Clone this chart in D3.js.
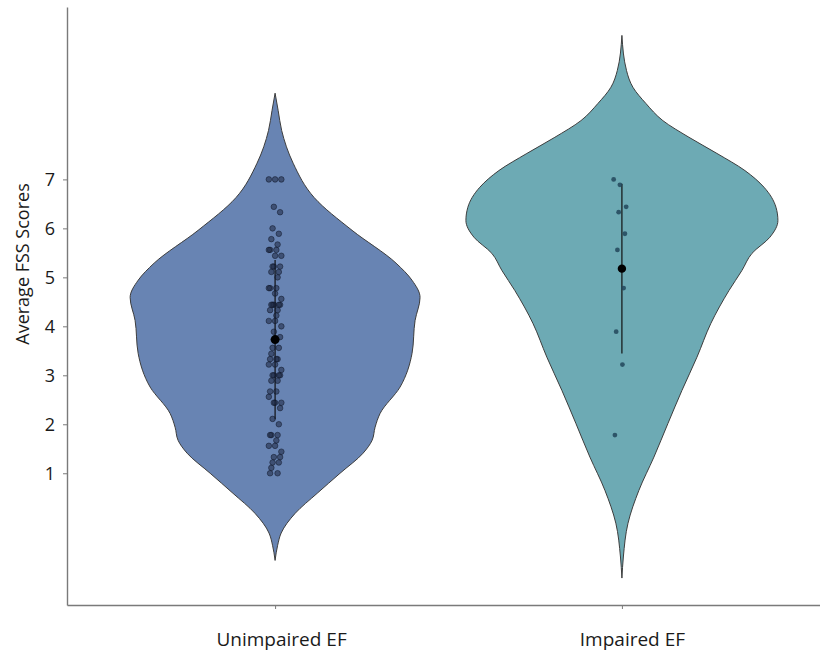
<!DOCTYPE html>
<html>
<head>
<meta charset="utf-8">
<script src="https://cdn.jsdelivr.net/npm/d3@7"></script>
<style>
  body { margin: 0; background: #fff; }
  svg { display: block; font-family: "Open Sans", sans-serif; }
</style>
</head>
<body>
<div id="violin"></div>
<script>
// groups on the x axis
const groups = ["Unimpaired EF", "Impaired EF"];
const yTicks = [1, 2, 3, 4, 5, 6, 7];

// individual average FSS scores
const unimpairedScores = [7, 7, 7, 6.44, 6.33, 6.0, 5.89, 5.78, 5.67, 5.56, 5.56, 5.56,
    5.44, 5.44, 5.22, 5.22, 5.22, 5.11, 5.11, 5.0, 4.78, 4.78, 4.78, 4.67, 4.56,
    4.44, 4.44, 4.44, 4.44, 4.44, 4.33, 4.33, 4.22, 4.11, 4.11, 4.0, 3.89, 3.78,
    3.56, 3.56, 3.44, 3.33, 3.33, 3.33, 3.22, 3.22, 3.11, 3.0, 3.0, 3.0, 3.0,
    2.89, 2.89, 2.67, 2.67, 2.56, 2.44, 2.44, 2.44, 2.33, 2.11, 2.0, 1.78, 1.78,
    1.78, 1.67, 1.56, 1.56, 1.44, 1.33, 1.33, 1.22, 1.22, 1.11, 1.0, 1.0];
const impairedScores = [7, 6.89, 6.44, 6.33, 5.89, 5.56, 4.78, 3.89, 3.22, 1.78];

// violin outlines: score level and relative density
const unimpairedLevels = [8.76, 8.41, 8.0, 7.33, 6.63, 5.96, 5.29, 4.94, 4.59, 4.12, 3.45,
    2.76, 2.22, 1.94, 1.67, 1.41, 1.0, 0.59, 0.18, -0.22, -0.47, -0.78];
const unimpairedDensity = [0, 0.019, 0.041, 0.113, 0.244, 0.481, 0.756, 0.856, 0.906, 0.875,
    0.856, 0.781, 0.656, 0.625, 0.606, 0.55, 0.406, 0.263, 0.125, 0.038, 0.016, 0];
const impairedLevels = [9.94, 9.22, 8.88, 8.55, 8.2, 7.86, 7.53, 7.18, 6.84, 6.43, 6.16,
    5.82, 5.49, 5.14, 4.73, 4.06, 3.37, 2.69, 2.02, 1.33, 0.65, -0.02, -0.71, -1.14];
const impairedDensity = [0, 0.029, 0.069, 0.15, 0.256, 0.419, 0.594, 0.769, 0.888, 0.963,
    0.975, 0.925, 0.813, 0.75, 0.669, 0.556, 0.469, 0.375, 0.288, 0.2, 0.106, 0.038, 0.009, 0];

const colors = ["#6884b3", "#6daab4"];

// set the dimensions and margins of the graph
const width = 820, height = 654;
const margin = {top: 7, right: 0, bottom: 49, left: 67};

const svg = d3.select("#violin")
    .append("svg")
    .attr("width", width)
    .attr("height", height);

const y = d3.scaleLinear()
    .domain([-1.69, 10.52])
    .range([height - margin.bottom, margin.top]);

const x = d3.scalePoint()
    .domain(groups)
    .range([margin.left, 830])
    .padding(0.6);

const w = d3.scaleLinear().domain([0, 1]).range([0, 160]);

const violins = [
    {key: groups[0], levels: unimpairedLevels, dens: unimpairedDensity, scores: unimpairedScores},
    {key: groups[1], levels: impairedLevels, dens: impairedDensity, scores: impairedScores}
];

// violin bodies
violins.forEach((v, k) => {
    const pts = v.levels.map((l, i) => [l, v.dens[i]]);
    const cx = x(v.key);
    svg.append("path")
        .datum(pts)
        .attr("fill", colors[k])
        .attr("stroke", "#3d3d3d")
        .attr("stroke-width", 1)
        .attr("d", d3.area()
            .curve(d3.curveMonotoneY)
            .y(d => y(d[0]))
            .x0(d => cx - w(d[1]))
            .x1(d => cx + w(d[1]))
        );
});

// mean +/- sd line, dots and mean marker
violins.forEach((v, k) => {
    const cx = x(v.key);
    const m = d3.mean(v.scores), sd = d3.deviation(v.scores);
    svg.append("line")
        .attr("x1", cx).attr("x2", cx)
        .attr("y1", y(m + sd)).attr("y2", y(m - sd))
        .attr("stroke", "#111")
        .attr("stroke-width", 1.2);

    svg.append("g")
        .selectAll("circle")
        .data(v.scores)
        .join("circle")
        .attr("cx", (d, i) => cx + ((i * 5) % 11 - 5) * 1.25 - (k ? 2 : 0))
        .attr("cy", d => y(d))
        .attr("r", k ? 2.4 : 2.8)
        .attr("fill", k ? "#22475a" : "#1b2740")
        .attr("fill-opacity", k ? 0.85 : 0.55)
        .attr("stroke", k ? "none" : "#0c1424")
        .attr("stroke-opacity", 0.6)
        .attr("stroke-width", 0.8);

    svg.append("circle")
        .attr("cx", cx)
        .attr("cy", y(m))
        .attr("r", k ? 4.2 : 4.5)
        .attr("fill", "#000");
});

// Y axis
const yAxis = svg.append("g")
    .attr("transform", `translate(${margin.left}, 0)`)
    .call(d3.axisLeft(y).tickValues(yTicks).tickSize(4).tickPadding(8).tickSizeOuter(0));
yAxis.select(".domain").attr("stroke", "#7a7a7a").attr("stroke-width", 1.4);
yAxis.selectAll(".tick line").attr("stroke", "#7a7a7a");
yAxis.selectAll(".tick text").attr("font-size", 18).attr("fill", "#1a1a1a")
    .attr("font-family", "Open Sans");

// X axis
const xAxis = svg.append("g")
    .attr("transform", `translate(0, ${height - margin.bottom})`)
    .call(d3.axisBottom(x).tickSize(4).tickPadding(24).tickSizeOuter(0));
xAxis.select(".domain").attr("stroke", "#7a7a7a").attr("stroke-width", 1.4);
xAxis.selectAll(".tick line").attr("stroke", "#7a7a7a");
xAxis.selectAll(".tick text").attr("font-size", 19).attr("fill", "#1a1a1a")
    .attr("font-family", "Open Sans")
    .attr("dx", (d, i) => i ? 10 : 6);

// Y title
svg.append("text")
    .attr("transform", `translate(29, 264) rotate(-90)`)
    .attr("text-anchor", "middle")
    .attr("font-size", 18)
    .attr("fill", "#1a1a1a")
    .text("Average FSS Scores");
</script>
</body>
</html>
